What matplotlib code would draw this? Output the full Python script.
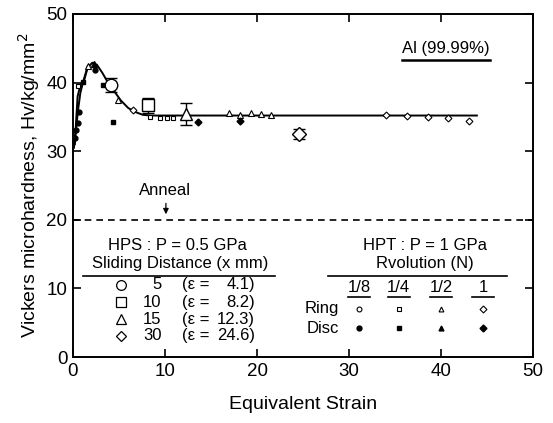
import matplotlib
matplotlib.use("Agg")
import matplotlib.pyplot as plt

plt.rcParams["font.family"] = ["Liberation Sans", "DejaVu Sans"]

# fitted curve
curve_x = [0.1, 0.3, 0.5, 0.8, 1.2, 1.6, 2.1, 2.6, 3.2, 3.8, 4.5, 5.2, 6.0, 6.8, 7.6, 8.5, 10, 43.9]
curve_y = [30.5, 33.5, 38.0, 39.6, 40.3, 42.2, 42.9, 42.6, 41.4, 40.0, 38.7, 37.4, 36.3, 35.7, 35.3, 35.2, 35.2, 35.2]
rise_x = [0.2, 0.35, 0.55, 0.8, 1.1, 1.6]
rise_y = [31.0, 33.5, 36.0, 38.5, 40.1, 42.4]

# HPS (large symbols with error bars)
hps_x = [4.1, 8.2, 12.3, 24.6]
hps_y = [39.7, 36.7, 35.4, 32.5]
hps_err = [1.0, 1.1, 1.6, 0.7]
hps_mk = ["o", "s", "^", "D"]
hps_dist = ["5", "10", "15", "30"]
hps_eps = ["4.1", "8.2", "12.3", "24.6"]

# HPT ring (small open) and disc (small filled)
ring_c_x = [6.5, 34.0, 36.3, 38.6, 40.8, 43.0]
ring_c_y = [36.0, 35.3, 35.2, 35.0, 34.8, 34.4]
ring_s_x = [0.5, 8.4, 9.5, 10.2, 10.9]
ring_s_y = [39.5, 35.0, 34.9, 34.8, 34.9]
ring_t_x = [1.6, 4.9, 17.0, 18.2, 19.3, 20.4, 21.5]
ring_t_y = [42.4, 37.5, 35.6, 35.3, 35.5, 35.4, 35.3]
disc_c_x = [0.2, 0.3, 0.5, 0.7, 2.4]
disc_c_y = [31.9, 33.1, 34.1, 35.7, 41.8]
disc_s_x = [1.1, 3.3, 4.3]
disc_s_y = [40.1, 39.7, 34.2]
disc_t_x = [2.3]
disc_t_y = [42.7]
disc_d_x = [13.6, 18.2]
disc_d_y = [34.3, 34.4]

hpt_cols = ["1/8", "1/4", "1/2", "1"]
hpt_col_x = [31.1, 35.4, 40.0, 44.6]
hpt_mk = ["o", "s", "^", "D"]

FS = 12

fig = plt.figure(figsize=(5.53, 4.23), dpi=100)
ax = fig.add_axes([73 / 553, (423 - 357) / 423, 460 / 553, 343 / 423])

ax.plot(curve_x, curve_y, "-", color="k", lw=1.4)
ax.plot(rise_x, rise_y, "-", color="k", lw=1.4)

for x, y, e, m in zip(hps_x, hps_y, hps_err, hps_mk):
    ax.errorbar(x, y, yerr=e, fmt=m, ms=9 if m != "D" else 7, mfc="white", mec="k",
                ecolor="k", elinewidth=1.0, capsize=4, mew=1.0, zorder=3)

sm = 3.5
ax.plot(ring_c_x, ring_c_y, "D", ms=sm, mfc="white", mec="k", mew=0.8, ls="none")
ax.plot(ring_s_x, ring_s_y, "s", ms=sm, mfc="white", mec="k", mew=0.8, ls="none")
ax.plot(ring_t_x, ring_t_y, "^", ms=sm + 0.5, mfc="white", mec="k", mew=0.8, ls="none")
ax.plot(disc_c_x, disc_c_y, "o", ms=sm, color="k", ls="none")
ax.plot(disc_s_x, disc_s_y, "s", ms=sm, color="k", ls="none")
ax.plot(disc_t_x, disc_t_y, "^", ms=sm + 0.5, color="k", ls="none")
ax.plot(disc_d_x, disc_d_y, "D", ms=sm, color="k", ls="none")

# anneal
ax.axhline(20, color="k", ls=(0, (4, 3)), lw=1.2)
ax.text(10.0, 24.2, "Anneal", ha="center", va="center", fontsize=FS)
ax.annotate("", xy=(10.1, 20.4), xytext=(10.1, 22.8),
            arrowprops=dict(arrowstyle="-|>", color="k", lw=0.9, mutation_scale=8))

# Al label
ax.text(40.5, 45.0, "Al (99.99%)", ha="center", va="center", fontsize=FS)
ax.plot([35.8, 45.3], [43.3, 43.3], color="k", lw=1.8)

# HPS legend
ax.text(11.3, 16.3, "HPS : P = 0.5 GPa", ha="center", va="center", fontsize=FS)
ax.text(11.6, 13.6, "Sliding Distance (x mm)", ha="center", va="center", fontsize=FS)
ax.plot([1.1, 22.0], [11.8, 11.8], color="k", lw=1.2)
rows_y = [10.5, 8.0, 5.5, 3.1]
for ry, m, d, e in zip(rows_y, hps_mk, hps_dist, hps_eps):
    ax.plot(5.2, ry, m, ms=7 if m != "D" else 5.5, mfc="white", mec="k", mew=0.9)
    ax.text(9.6, ry, d, ha="right", va="center", fontsize=FS)
    ax.text(11.9, ry, "(ε =", ha="left", va="center", fontsize=FS)
    ax.text(19.8, ry, e + ")", ha="right", va="center", fontsize=FS)

# HPT legend
ax.text(38.3, 16.3, "HPT : P = 1 GPa", ha="center", va="center", fontsize=FS)
ax.text(38.3, 13.6, "Rvolution (N)", ha="center", va="center", fontsize=FS)
ax.plot([27.7, 47.2], [11.8, 11.8], color="k", lw=1.2)
ax.text(28.9, 7.0, "Ring", ha="right", va="center", fontsize=FS)
ax.text(28.9, 4.2, "Disc", ha="right", va="center", fontsize=FS)
for cx, lab, m in zip(hpt_col_x, hpt_cols, hpt_mk):
    ax.text(cx, 10.1, lab, ha="center", va="center", fontsize=FS)
    ax.plot([cx - 1.2, cx + 1.2], [8.7, 8.7], color="k", lw=1.2)
    ax.plot(cx, 7.0, m, ms=sm, mfc="white", mec="k", mew=0.8)
    ax.plot(cx, 4.2, m, ms=sm, color="k")

ax.set_xlim(0, 50)
ax.set_ylim(0, 50)
ax.set_xticks([0, 10, 20, 30, 40, 50])
ax.set_yticks([0, 10, 20, 30, 40, 50])
ax.tick_params(direction="in", length=6, width=1.2, labelsize=13.5, top=True, right=True,
               pad=4)
for s in ax.spines.values():
    s.set_linewidth(1.4)
ax.set_xlabel("Equivalent Strain", fontsize=14, labelpad=12)
ax.set_ylabel("Vickers microhardness, Hv/kg/mm$^2$", fontsize=14, labelpad=3)

fig.savefig("out.png", dpi=100)
